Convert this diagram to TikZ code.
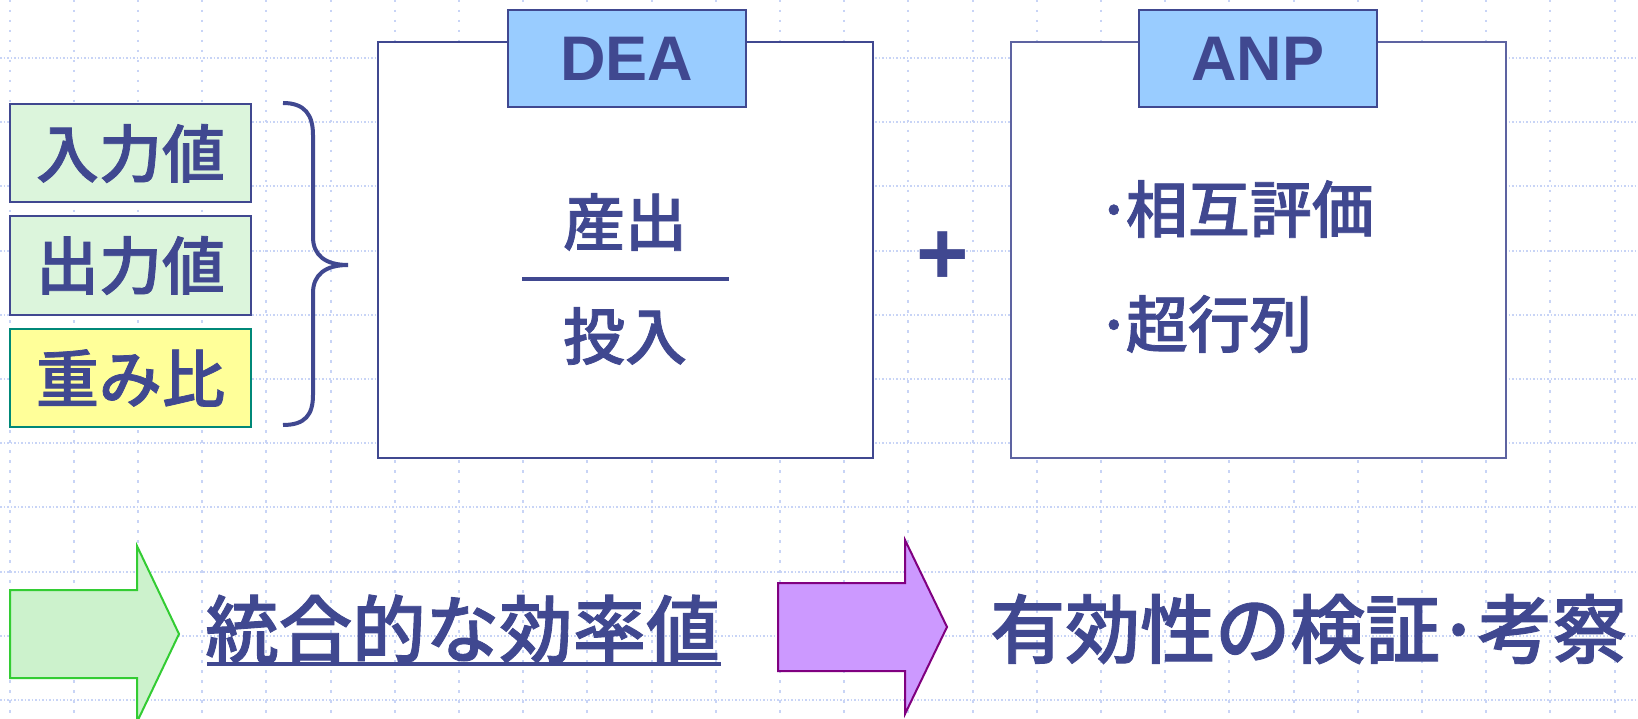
\documentclass[tikz,border=0pt]{standalone}
\usepackage{fontspec}
\newfontfamily\jp{Noto Sans CJK JP Medium}
\newfontfamily\jpb{Noto Sans CJK JP Medium}[FakeBold=1.2]
\newfontfamily\lat{Liberation Sans}
\definecolor{ink}{HTML}{404890}
\definecolor{gridc}{HTML}{C8D4F6}
\definecolor{lgreen}{HTML}{DCF5DC}
\definecolor{lyellow}{HTML}{FFFF99}
\definecolor{lteal}{HTML}{008878}
\definecolor{lblue}{HTML}{99CCFF}
\definecolor{agreen}{HTML}{CCF2CC}
\definecolor{agreenb}{HTML}{33CC33}
\definecolor{apurple}{HTML}{CC99FF}
\definecolor{apurpleb}{HTML}{800080}
\tikzset{
  item/.style={draw=ink, line width=2pt, fill=lgreen, minimum width=241pt, minimum height=98pt, inner sep=0pt, text=ink, font=\jpb\fontsize{63}{70}\selectfont},
  bigbox/.style={draw=ink, line width=2pt, fill=white, minimum width=495pt, minimum height=416pt, inner sep=0pt},
  tag/.style={draw=ink, line width=2pt, fill=lblue, minimum width=238pt, minimum height=97pt, inner sep=0pt, text=ink, font=\lat\bfseries\fontsize{63}{68}\selectfont},
  jtext/.style={text=ink, inner sep=0pt, font=\jpb\fontsize{62}{70}\selectfont},
  btext/.style={text=ink, inner sep=0pt, font=\jpb\fontsize{75}{80}\selectfont},
}
\begin{document}
\begin{tikzpicture}[x=1pt,y=-1pt]
\useasboundingbox (0,0) rectangle (1638,719);
\fill[white] (0,0) rectangle (1638,719);
% grid
\foreach \k in {0,...,10} {
  \draw[gridc, line width=2pt, dash pattern=on 1.5pt off 2pt] (0,{58+64.2*\k}) -- (1638,{58+64.2*\k});
}
\foreach \k in {0,...,25} {
  \draw[gridc, line width=2pt, dash pattern=on 2.5pt off 7.5pt] ({9.5+64.2*\k},0) -- ({9.5+64.2*\k},719);
}
% left items
\node[item] (in) at (130.5,153.5) {入力値};
\node[item] (out) at (130.5,265.5) {出力値};
\node[item, fill=lyellow, draw=lteal] (wt) at (130.5,378) {重み比};
% brace
\draw[ink, line width=4pt] (283,103) .. controls (305,103) and (313,115) .. (313,135)
  -- (313,237) .. controls (313,255) and (325,265) .. (348,265)
  .. controls (325,265) and (313,275) .. (313,293)
  -- (313,395) .. controls (313,415) and (305,425) .. (283,425);
% DEA
\node[bigbox] (dea) at (625.5,250) {};
\node[tag] (deat) at (626.5,59) {DEA};
\node[jtext] (num) at (625,222) {産出};
\node[jtext] (den) at (625,336) {投入};
\coordinate (fl) at (522,279);
\coordinate (fr) at (729,279);
\draw[ink, line width=4pt] (fl) -- (fr);
% plus
\node[text=ink, inner sep=0pt, font=\lat\bfseries\fontsize{90}{96}\selectfont] (plus) at (943,258) {+};
% ANP
\node[bigbox, draw=ink!85] (anp) at (1258,250) {};
\node[tag] (anpt) at (1258,59) {ANP};
\node[jtext, anchor=west] (a1) at (1096,209) {·\kern-6pt相互評価};
\node[jtext, anchor=west] (a2) at (1096,324) {·\kern-6pt超行列};
% arrows
\draw[agreenb, fill=agreen, line width=2pt, line join=miter]
  (10,590) -- (137,590) -- (137,546) -- (179,634) -- (137,722) -- (137,678) -- (10,678) -- cycle;
\draw[apurpleb, fill=apurple, line width=2pt, line join=miter]
  (778,583) -- (905,583) -- (905,540) -- (947,627) -- (905,714) -- (905,671) -- (778,671) -- cycle;
\node[btext, font=\jpb\fontsize{73.5}{80}\selectfont, anchor=west] (t1) at (205,629) {統合的な効率値};
\coordinate (ul) at (207,664);
\coordinate (ur) at (721,664);
\draw[ink, line width=4pt] (ul) -- (ur);
\node[btext, anchor=west] (t2) at (990,629) {有効性の検証\kern-3pt·\kern-3pt考察};
\end{tikzpicture}
\end{document}
